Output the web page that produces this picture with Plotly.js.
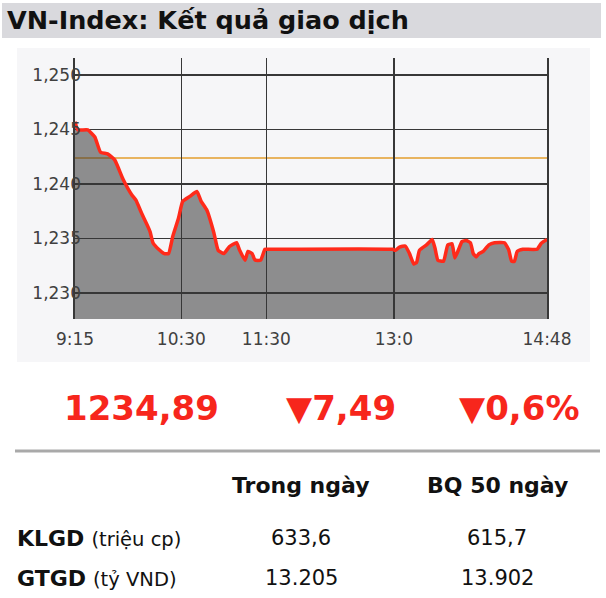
<!DOCTYPE html>
<html>
<head>
<meta charset="utf-8">
<script src="https://cdn.plot.ly/plotly-3.0.1.min.js"></script>
<style>
html,body{margin:0;padding:0;background:#fff;}
#chart{width:606px;height:598px;}
</style>
</head>
<body>
<div id="chart"></div>
<script>
// ---- data ----
const chartTitle = "VN-Index: Kết quả giao dịch";
const times = ["09:15","09:17","09:24","09:29","09:33","09:38","09:43","09:49","09:55","09:58",
  "10:02","10:06","10:08","10:10","10:14","10:18","10:21","10:24","10:28","10:31",
  "10:36","10:41","10:44","10:48","10:53","10:56","11:00","11:04","11:09","11:11",
  "11:15","11:17","11:20","11:22","11:26","11:29","11:31","12:59","13:01","13:04","13:08",
  "13:11","13:14","13:16","13:18","13:23","13:27","13:29","13:31","13:35","13:38",
  "13:41","13:43","13:46","13:48","13:51","13:54","13:56","13:58","14:00","14:03",
  "14:07","14:11","14:18","14:21","14:23","14:25","14:27","14:31","14:41","14:44","14:48"];
const indexValues = [1245.7,1244.95,1244.95,1244.3,1242.9,1242.75,1242.2,1240.4,1239.0,1238.5,
  1237.3,1236.2,1235.6,1234.6,1234.0,1233.6,1233.6,1235.2,1236.85,1238.4,
  1238.85,1239.3,1238.4,1237.6,1235.5,1233.9,1233.6,1234.25,1234.6,1233.95,
  1233.0,1233.8,1233.6,1233.0,1233.0,1234.0,1234.0,1234.0,1233.9,1234.2,1234.3,
  1233.6,1232.65,1232.8,1233.9,1234.4,1234.9,1234.1,1233.0,1232.9,1234.4,
  1234.5,1233.2,1234.1,1234.7,1234.8,1234.6,1233.6,1233.3,1233.6,1233.8,
  1234.4,1234.6,1234.6,1233.95,1232.9,1232.9,1233.8,1234.0,1234.0,1234.55,1234.89];
const referenceValue = 1242.38;
const xTickTimes = ["09:15","10:30","11:30","13:00","14:48"];
const xTickLabels = ["9:15","10:30","11:30","13:0","14:48"];
const yTickValues = [1230,1235,1240,1245,1250];
const yTickLabels = ["1,230","1,235","1,240","1,245","1,250"];
const headline = ["1234,89","▼7,49","▼0,6%"];
const tableHeaders = ["Trong ngày","BQ 50 ngày"];
const rowCodes = ["KLGD","GTGD"];
const rowUnits = ["(triệu cp)","(tỷ VND)"];
const todayValues = ["633,6","13.205"];
const avg50Values = ["615,7","13.902"];

// ---- layout helpers ----
const W = 606, H = 598;
const M = {l:75, r:59, t:58, b:279};
const PW = W - M.l - M.r, PH = H - M.t - M.b;
const px = x => (x - M.l) / PW;
const py = y => (H - M.b - y) / PH;
const day = "2024-01-01 ";
const toDate = t => day + t + ":00";

const FONT = "DejaVu Sans, Verdana, sans-serif";
const RED = "#f7261c";

const trace = {
  x: times.map(toDate),
  y: indexValues,
  type: "scatter",
  mode: "lines",
  line: {color: "#ff2a1a", width: 3.5, shape: "spline", smoothing: 0.4},
  fill: "tozeroy",
  fillcolor: "rgba(55,55,55,0.55)",
  hoverinfo: "skip"
};

const annotations = [];
annotations.push({xref:"paper",yref:"paper",x:px(5),y:py(20),xanchor:"left",yanchor:"middle",
  text:"<b>"+chartTitle+"</b>",showarrow:false,font:{family:FONT,size:25.5,color:"#111"}});
const headX = [141, 341, 519];
headline.forEach((t,i)=>annotations.push({xref:"paper",yref:"paper",x:px(headX[i]),y:py(408),
  xanchor:"center",yanchor:"middle",text:"<b>"+t+"</b>",showarrow:false,
  font:{family:FONT,size:34,color:RED}}));
const colX = [301, 497];
tableHeaders.forEach((t,i)=>annotations.push({xref:"paper",yref:"paper",x:px(colX[i]),y:py(485),
  xanchor:"center",yanchor:"middle",text:"<b>"+t+"</b>",showarrow:false,
  font:{family:FONT,size:22,color:"#111"}}));
const rowY = [538, 578];
rowCodes.forEach((c,i)=>{
  annotations.push({xref:"paper",yref:"paper",x:px(15),y:py(rowY[i]),xanchor:"left",yanchor:"middle",
    text:"<b>"+c+"</b> <span style='font-size:19.5px'>"+rowUnits[i]+"</span>",showarrow:false,
    font:{family:FONT,size:22,color:"#111"}});
  annotations.push({xref:"paper",yref:"paper",x:px(colX[0]),y:py(rowY[i]),xanchor:"center",yanchor:"middle",
    text:todayValues[i],showarrow:false,font:{family:FONT,size:21,color:"#111"}});
  annotations.push({xref:"paper",yref:"paper",x:px(colX[1]),y:py(rowY[i]),xanchor:"center",yanchor:"middle",
    text:avg50Values[i],showarrow:false,font:{family:FONT,size:21,color:"#111"}});
});

const shapes = [
  {type:"rect",xref:"paper",yref:"paper",x0:px(2),x1:px(601),y0:py(3),y1:py(38),
    fillcolor:"#d9d9dd",line:{width:0},layer:"below"},
  {type:"rect",xref:"paper",yref:"paper",x0:px(17),x1:px(590),y0:py(48),y1:py(362),
    fillcolor:"#f6f6f8",line:{width:0},layer:"below"},
  {type:"line",xref:"paper",yref:"paper",x0:px(15),x1:px(600),y0:py(451),y1:py(451),
    line:{color:"#a9a9a9",width:3}},
  {type:"line",xref:"paper",yref:"y",x0:0,x1:1,y0:referenceValue,y1:referenceValue,
    line:{color:"#e8b460",width:2},layer:"below"}
];

const layout = {
  width: W, height: H,
  margin: M,
  paper_bgcolor: "#ffffff",
  plot_bgcolor: "#f6f5f9",
  showlegend: false,
  font: {family: FONT},
  xaxis: {
    type: "date",
    range: [toDate("09:15"), toDate("14:48")],
    tickmode: "array",
    tickvals: xTickTimes.map(toDate),
    ticktext: xTickLabels,
    showgrid: true, gridcolor: "#383838", gridwidth: 1.6,
    showline: false, zeroline: false, ticks: "",
    ticklabelstandoff: 8,
    tickfont: {family: FONT, size: 17, color: "#404040"},
    fixedrange: true
  },
  yaxis: {
    range: [1227.6, 1251.55],
    tickmode: "array",
    tickvals: yTickValues,
    ticktext: yTickLabels,
    showgrid: true, gridcolor: "#383838", gridwidth: 1.6,
    showline: true, mirror: true, linecolor: "#383838", linewidth: 1.6,
    zeroline: false, ticks: "",
    ticklabelstandoff: -11,
    tickfont: {family: FONT, size: 17, color: "#404040"},
    fixedrange: true
  },
  shapes: shapes,
  annotations: annotations
};

Plotly.newPlot("chart", [trace], layout, {displayModeBar: false, staticPlot: true});
</script>
</body>
</html>
